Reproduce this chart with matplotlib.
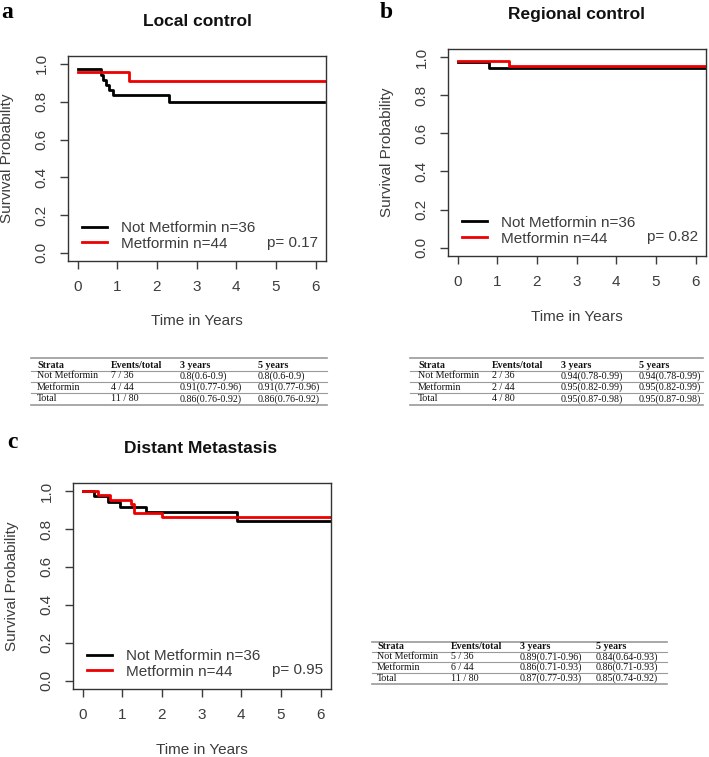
import matplotlib
matplotlib.use('Agg')
import matplotlib.pyplot as plt
from matplotlib.lines import Line2D

plt.rcParams['font.family'] = ['Liberation Sans', 'DejaVu Sans']

# ---- data ----
groups = ['Not Metformin n=36', 'Metformin n=44']

# a. Local control
a_t_nm = [0, 0.6, 0.65, 0.72, 0.8, 0.9, 2.3, 6.2]
a_s_nm = [0.972, 0.944, 0.917, 0.889, 0.861, 0.833, 0.80, 0.80]
a_t_m = [0, 1.3, 6.4]
a_s_m = [0.955, 0.909, 0.909]

# b. Regional control
b_t_nm = [0, 0.8, 6.4]
b_s_nm = [0.972, 0.944, 0.944]
b_t_m = [0, 1.3, 6.4]
b_s_m = [0.977, 0.955, 0.955]

# c. Distant metastasis
c_t_nm = [0, 0.3, 0.65, 0.95, 1.6, 3.9, 6.4]
c_s_nm = [1.0, 0.972, 0.944, 0.917, 0.889, 0.843, 0.843]
c_t_m = [0, 0.4, 0.7, 1.22, 1.3, 2.0, 6.4]
c_s_m = [1.0, 0.977, 0.955, 0.932, 0.886, 0.864, 0.864]

p_values = ['p= 0.17', 'p= 0.82', 'p= 0.95']
titles = ['Local control', 'Regional control', 'Distant Metastasis']
letters = ['a', 'b', 'c']

tab_header = ['Strata', 'Events/total', '3 years', '5 years']
tab_strata = ['Not Metformin', 'Metformin', 'Total']
a_events = ['7 / 36', '4 / 44', '11 / 80']
a_3y = ['0.8(0.6-0.9)', '0.91(0.77-0.96)', '0.86(0.76-0.92)']
a_5y = ['0.8(0.6-0.9)', '0.91(0.77-0.96)', '0.86(0.76-0.92)']
b_events = ['2 / 36', '2 / 44', '4 / 80']
b_3y = ['0.94(0.78-0.99)', '0.95(0.82-0.99)', '0.95(0.87-0.98)']
b_5y = ['0.94(0.78-0.99)', '0.95(0.82-0.99)', '0.95(0.87-0.98)']
c_events = ['5 / 36', '6 / 44', '11 / 80']
c_3y = ['0.89(0.71-0.96)', '0.86(0.71-0.93)', '0.87(0.77-0.93)']
c_5y = ['0.84(0.64-0.93)', '0.86(0.71-0.93)', '0.85(0.74-0.92)']

W, H = 709, 757
fig = plt.figure(figsize=(W / 100, H / 100), dpi=100)
fig.patch.set_facecolor('white')

def px_axes(x0, y0, x1, y1):
    return fig.add_axes([x0 / W, 1 - y1 / H, (x1 - x0) / W, (y1 - y0) / H])

gray = '#3c3c3c'

def km_panel(ax, t_nm, s_nm, t_m, s_m, pval):
    ax.step(t_nm, s_nm, where='post', color='black', lw=2.0, label=groups[0])
    ax.step(t_m, s_m, where='post', color='#ee0000', lw=2.0, label=groups[1])
    ax.set_xlim(-0.24, 6.26)
    ax.set_ylim(-0.043, 1.042)
    ax.set_xticks(range(7))
    ax.set_yticks([0, 0.2, 0.4, 0.6, 0.8, 1.0])
    ax.set_yticklabels(['0.0', '0.2', '0.4', '0.6', '0.8', '1.0'],
                       rotation=90, va='center')
    ax.tick_params(direction='out', length=6, width=1, colors=gray,
                   labelsize=11, pad=8)
    for sp in ax.spines.values():
        sp.set_color('#333333')
        sp.set_linewidth(1)
    ax.text(0.5, -0.295, 'Time in Years', transform=ax.transAxes,
            ha='center', va='center', fontsize=11, color=gray)
    ax.text(-0.235, 0.5, 'Survival Probability', transform=ax.transAxes,
            ha='center', va='center', rotation=90, fontsize=11, color=gray)
    leg = ax.legend(loc='lower left', bbox_to_anchor=(0.055, 0.05),
                    frameon=False, fontsize=11, handlelength=1.65,
                    handletextpad=0.9, labelspacing=0.12, borderpad=0,
                    borderaxespad=0)
    for txt in leg.get_texts():
        txt.set_color(gray)
    ax.text(0.97, 0.09, pval, transform=ax.transAxes, ha='right',
            va='center', fontsize=11, color=gray)

ax_a = px_axes(68, 56, 326, 261)
km_panel(ax_a, a_t_nm, a_s_nm, a_t_m, a_s_m, p_values[0])
ax_b = px_axes(448, 49, 706, 256)
km_panel(ax_b, b_t_nm, b_s_nm, b_t_m, b_s_m, p_values[1])
ax_c = px_axes(73, 483, 331, 689)
km_panel(ax_c, c_t_nm, c_s_nm, c_t_m, c_s_m, p_values[2])

# titles and panel letters
for (x, y, s) in [(197, 21, titles[0]), (577, 15, titles[1]), (201, 448, titles[2])]:
    fig.text(x / W, 1 - y / H, s, ha='center', va='center', fontsize=12.5,
             fontweight='bold', color='#111111')
for (x, y, s) in [(7, 13, letters[0]), (386, 12, letters[1]), (12, 442, letters[2])]:
    fig.text(x / W, 1 - y / H, s, ha='center', va='center', fontsize=17,
             fontweight='bold', family='Liberation Serif', color='black')

# summary tables
def table(x0, x1, col_x, y_rows, y_lines, events, y3, y5):
    rows = [tab_header] + [[tab_strata[i], events[i], y3[i], y5[i]] for i in range(3)]
    for r, row in enumerate(rows):
        for c, val in enumerate(row):
            fig.text(col_x[c] / W, 1 - y_rows[r] / H, val, ha='left',
                     va='center', fontsize=7.2, family='Liberation Serif',
                     fontweight='bold' if r == 0 else 'normal',
                     color='#111111')
    for i, yl in enumerate(y_lines):
        lw = 1.2 if i in (0, len(y_lines) - 1) else 0.8
        fig.add_artist(Line2D([x0 / W, x1 / W], [1 - yl / H, 1 - yl / H],
                              color='#9a9a9a', lw=lw))

table(31, 327, [37, 111, 180, 258], [365, 375.7, 387.3, 398.7],
      [358.3, 370.5, 381.7, 393, 404.5], a_events, a_3y, a_5y)
table(410, 703, [418, 492, 561, 639], [365, 375.7, 387.3, 398.7],
      [358.3, 370.5, 381.7, 393, 404.5], b_events, b_3y, b_5y)
table(372, 667, [377, 451, 520, 596], [646.7, 656.7, 667.5, 678.3],
      [641.5, 652, 662, 672.7, 684], c_events, c_3y, c_5y)

fig.savefig('out.png', dpi=100, facecolor='white')
